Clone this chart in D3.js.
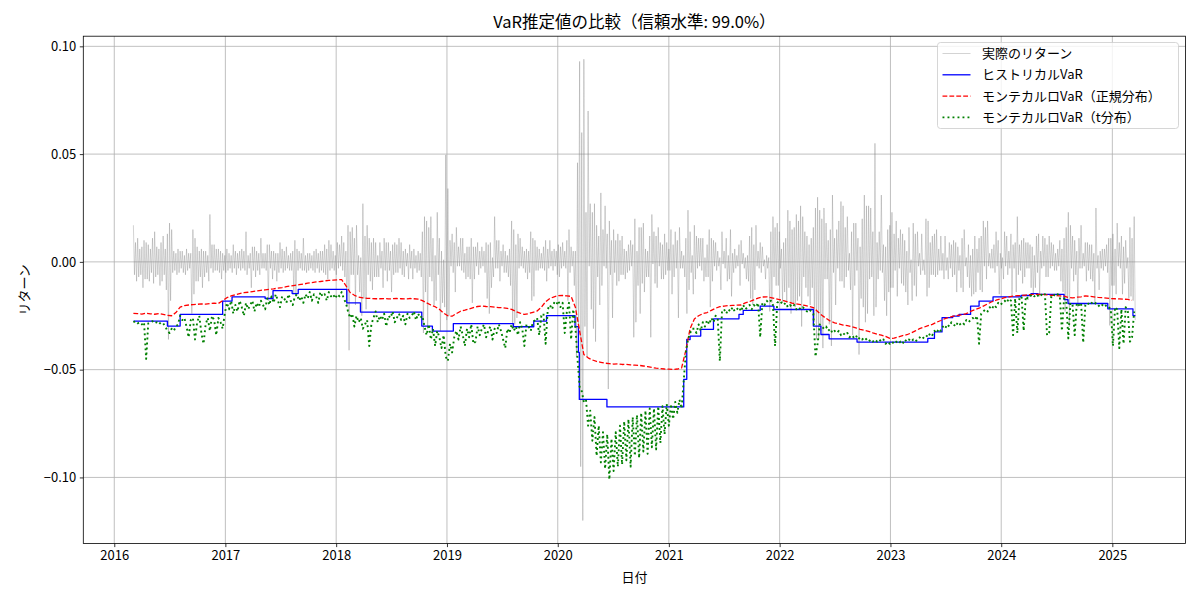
<!DOCTYPE html>
<html>
<head>
<meta charset="utf-8">
<script src="https://cdn.jsdelivr.net/npm/d3@7"></script>
<style>
  body { margin: 0; background: #fff; }
  svg { font-family: "Noto Sans CJK JP", "Noto Sans", sans-serif; }
  .grid line { stroke: #b0b0b0; stroke-width: 0.8; }
  .axis text { font-size: 13px; fill: #000; font-family: "Noto Sans CJK JP", "DejaVu Sans", sans-serif; }
  .axis line { stroke: #000; stroke-width: 0.8; }
  .axis path { display: none; }
</style>
</head>
<body>
<script>
// weekly samples, first week ending 2016-03-04 (values in %)
var weekStart = '2016-03-04';

// weekly high / low of daily returns
var retHi = [
  1.7,0.9,1.1,0.6,0.7,1.0,0.9,0.8,0.6,1.1, 1.4,0.7,0.6,0.9,1.2,0.6,1.3,1.8,1.5,0.5,
  0.4,0.6,0.5,0.5,0.3,0.6,0.4,0.4,1.5,1.1, 0.7,0.5,0.6,0.5,0.5,0.3,2.2,0.8,0.8,0.6,
  0.6,0.5,0.4,0.3,
  // 2017
  0.6,0.4,0.3,0.8,0.5,0.4,0.5,0.6,0.5,1.4, 0.3,0.4,0.7,0.7,0.5,0.4,1.1,0.4,0.4,0.8,
  0.8,0.5,0.5,0.4,0.4,0.9,0.6,0.5,0.7,0.3, 0.4,0.5,1.0,0.6,0.5,0.4,1.1,0.3,0.4,0.4,
  0.3,0.5,0.6,0.4,0.5,0.5,0.8,0.6,1.0,0.8, 0.5,0.3,
  // 2018
  0.9,0.8,1.2,0.9,0.5,1.7,1.4,1.6,1.1,1.7, 0.3,0.2,2.7,1.2,1.7,1.1,0.9,1.1,0.9,0.3,
  0.9,0.5,1.1,0.9,0.9,0.5,0.8,0.9,0.8,1.1, 0.9,0.5,0.6,0.4,0.8,0.5,0.6,0.3,0.5,0.4,
  1.4,2.1,1.9,1.6,2.1,1.1,0.3,2.3,1.1,0.5, 0.1,4.96,
  // 2019
  3.4,1.0,1.3,0.9,1.6,0.7,1.1,1.1,0.4,0.7, 0.7,1.1,0.7,0.7,0.9,0.5,0.7,0.5,0.9,0.8,
  0.9,0.2,2.1,1.0,1.0,0.5,0.8,0.5,0.3,0.6, 1.9,1.5,0.8,1.3,1.1,0.7,0.5,0.6,0.5,1.4,
  1.1,1.0,0.7,0.6,0.4,0.7,1.0,0.6,1.0,0.5, 0.6,0.5,
  // 2020
  0.8,0.7,0.9,0.5,1.0,1.5,0.7,0.5,0.5,4.6, 9.3,6.0,9.4,2.3,7.0,2.7,2.3,2.7,1.7,1.2,
  3.2,1.5,2.6,1.3,1.9,1.0,1.5,1.0,1.3,1.0, 1.2,0.6,0.5,0.8,1.0,0.8,2.0,0.5,1.6,1.6,
  1.8,0.6,0.5,1.2,2.2,1.4,1.2,1.6,0.9,0.8, 1.3,0.9,
  // 2021
  0.6,1.5,0.8,1.4,1.0,1.6,0.5,0.3,1.1,2.4, 1.4,0.3,1.7,1.2,1.1,1.1,1.1,0.2,0.8,1.5,
  1.1,1.0,0.9,0.5,0.2,1.4,0.5,1.1,0.3,1.5, 0.4,0.6,0.3,0.8,1.0,0.4,0.2,0.3,1.2,1.6,
  0.8,1.7,0.5,0.9,0.7,0.1,0.3,0.2,1.4,2.1, 1.6,1.8,1.4,
  // 2022
  0.6,0.9,1.1,2.4,1.9,1.5,1.6,2.2,1.9,2.6, 2.1,1.4,1.2,0.8,1.1,1.6,2.5,3.0,2.4,2.0,
  2.5,1.8,1.0,1.5,3.1,1.1,1.5,1.9,2.8,2.6, 1.6,2.1,0.4,1.4,1.8,1.8,1.1,0.7,2.0,3.1,
  2.6,2.6,2.5,1.4,5.5,0.9,1.4,3.1,0.8,0.7, 1.5,1.7,
  // 2023
  2.3,1.3,1.9,1.1,1.5,1.3,1.0,0.5,1.6,0.1, 1.8,1.3,1.4,0.4,1.3,0.1,2.0,1.9,0.9,1.2,
  1.3,1.5,0.6,1.2,0.4,1.2,0.2,0.9,0.8,1.0, 0.9,0.7,0.3,1.1,1.5,0.2,0.8,0.3,0.6,1.2,
  0.6,1.1,1.2,1.9,1.6,1.9,0.4,0.6,0.8,1.4, 1.0,0.4,
  // 2024
  0.2,1.4,1.2,0.5,1.3,0.8,0.9,2.1,0.8,1.0, 1.1,0.9,0.9,0.8,0.7,0.3,1.2,1.3,0.5,1.2,
  1.1,0.8,1.2,0.9,0.8,0.4,0.6,1.0,0.6,1.1, 1.6,2.3,1.7,1.2,1.0,0.5,1.1,1.7,0.4,0.9,
  0.9,0.8,0.8,0.4,2.5,0.3,0.5,0.6,0.6,0.8, 1.1,1.1,
  // 2025
  1.3,0.6,1.8,0.9,1.2,0.7,1.0,0.2,1.6,1.1, 2.1
];

var retLo = [
  -0.6,-0.9,-0.7,-0.6,-1.2,-0.8,-0.8,-0.9,-0.5,-1.0, -0.7,-0.6,-1.1,-0.9,-0.6,-1.3,-3.6,-1.8,-0.5,-0.4,
  -0.6,-0.5,-0.3,-0.5,-0.6,-0.4,-0.3,-2.4,-1.5,-0.9, -0.9,-0.7,-1.2,-0.7,-0.5,-0.9,-0.3,-0.5,-0.4,-0.4,
  -0.5,-0.8,-0.4,-0.5,
  // 2017
  -0.4,-0.3,-0.5,-0.3,-0.6,-0.3,-0.4,-0.3,-0.4,-0.6, -0.3,-1.2,-0.4,-0.7,-0.4,-0.6,-0.3,-0.3,-0.4,-1.8,
  -0.3,-0.8,-0.4,-0.9,-0.5,-0.3,-0.5,-0.4,-0.3,-0.4, -0.4,-1.5,-1.6,-0.4,-0.3,-0.4,-0.4,-0.5,-0.4,-0.3,
  -0.4,-0.5,-0.3,-0.5,-0.4,-0.5,-0.6,-0.8,-0.4,-0.3, -0.4,-0.6,
  // 2018
  -0.3,-0.2,-0.4,-0.7,-2.1,-4.1,-0.6,-0.6,-2.0,-0.6, -1.4,-2.5,-1.7,-2.2,-0.6,-0.9,-1.3,-0.7,-0.7,-0.7,
  -0.3,-1.2,-0.4,-0.9,-0.4,-1.4,-0.6,-0.5,-0.5,-0.3, -0.6,-0.7,-0.2,-0.8,-0.3,-0.8,-0.3,-0.5,-0.4,-0.7,
  -3.3,-1.4,-3.1,-0.7,-0.9,-2.0,-1.8,-0.6,-3.2,-1.9, -2.1,-2.7,
  // 2019
  -2.5,-0.2,-0.5,-1.4,-0.2,-0.2,-0.4,-0.5,-0.8,-0.7, -0.8,-1.9,-0.8,-0.2,-0.6,-0.3,-0.2,-0.5,-1.7,-2.4,
  -1.2,-0.7,-0.3,-0.3,-0.9,-0.2,-0.5,-0.5,-0.7,-1.1, -3.0,-2.9,-2.6,-0.3,-0.2,-0.3,-0.5,-0.8,-0.5,-1.8,
  -1.6,-0.4,-0.4,-0.3,-0.3,-0.4,-0.9,-0.3,-0.2,-0.4, -0.2,-0.6,
  // 2020
  -0.7,-0.3,-0.2,-0.3,-1.8,-0.5,-0.2,-1.1,-4.4,-3.4, -9.5,-12.0,-3.0,-4.4,-0.2,-2.2,-3.1,-3.7,-0.7,-2.0,
  -1.1,-0.2,-0.3,-5.9,-0.6,-2.6,-0.5,-1.1,-0.9,-0.6, -0.6,-0.8,-0.5,-0.4,-0.2,-3.5,-2.8,-1.1,-2.4,-1.0,
  -1.4,-0.7,-0.7,-3.5,-0.1,-1.0,-1.2,-0.2,-0.8,-0.8, -0.6,-0.4,
  // 2021
  -0.4,-1.5,-0.7,-0.3,-2.6,-0.3,-0.3,-0.7,-2.4,-1.3, -0.5,-1.5,-0.8,-0.3,-0.2,-0.4,-0.9,-0.7,-0.7,-2.1,
  -0.9,-0.2,-0.4,-0.2,-1.3,-0.1,-0.3,-0.9,-0.8,-1.6, -0.5,-0.3,-0.2,-1.1,-0.1,-0.3,-0.8,-0.9,-1.7,-2.0,
  -1.3,-0.2,-0.3,-0.5,-0.2,-0.8,-0.3,-2.3,-1.9,-0.7, -1.1,-1.1,-0.3,
  // 2022
  -1.9,-1.4,-1.9,-1.2,-2.4,-1.9,-2.1,-1.8,-1.6,-3.0, -0.7,-1.2,-1.6,-2.0,-1.2,-2.8,-3.6,-3.6,-3.2,-4.0,
  -0.8,-0.8,-2.9,-3.9,-0.5,-2.0,-0.3,-0.9,-0.9,-1.2, -0.7,-0.4,-1.3,-3.4,-1.1,-0.4,-4.3,-1.7,-2.1,-2.8,
  -2.4,-0.8,-0.7,-2.5,-2.1,-0.8,-0.4,-0.5,-1.8,-2.5, -1.4,-1.2,
  // 2023
  -1.2,-0.4,-1.6,-0.3,-1.0,-1.1,-1.4,-2.0,-0.5,-1.8, -1.1,-1.6,-0.2,-0.6,-0.4,-0.6,-1.6,-1.2,-0.6,-0.6,
  -0.7,-0.6,-0.4,-0.4,-0.8,-0.4,-0.8,-0.3,-0.7,-0.6, -1.4,-0.4,-1.2,-1.4,-0.2,-0.7,-1.2,-1.6,-1.5,-1.4,
  -0.5,-1.3,-1.4,-0.2,-0.8,-0.2,-0.3,-0.3,-0.5,-0.2, -1.5,-0.3,
  // 2024
  -0.8,-0.2,-0.6,-0.3,-1.6,-0.3,-1.4,-0.6,-0.4,-1.0, -0.7,-0.3,-0.3,-1.2,-1.5,-1.2,-0.5,-1.6,-0.3,-0.2,
  -0.7,-0.7,-0.3,-0.2,-0.4,-0.4,-0.2,-0.9,-1.4,-2.3, -1.8,-3.0,-0.3,-0.9,-0.6,-2.1,-0.3,-0.3,-0.2,-0.9,
  -0.4,-0.8,-0.9,-1.9,-0.3,-1.3,-0.3,-0.4,-0.2,-0.5, -2.95,-1.1,
  // 2025
  -1.1,-1.5,-0.2,-0.3,-1.5,-1.0,-0.3,-1.7,-1.6,-1.8, -2.7
];

// Monte Carlo VaR, t distribution (weekly)
var mcTVaR = [
  -2.8,-2.75,-2.85,-2.8,-2.9,-2.8,-4.5,-2.85,-2.8,-2.75, -2.85,-2.8,-2.9,-2.8,-2.85,-3.0,-3.2,-3.3,-3.1,-3.2,
  -3.0,-2.9,-2.5,-2.7,-2.6,-3.0,-3.5,-2.7,-2.6,-3.6, -2.8,-2.5,-3.3,-3.8,-2.9,-2.6,-3.2,-2.5,-2.7,-3.4,
  -2.6,-2.8,-3.1,-2.4,
  // 2017
  -1.9,-2.2,-1.8,-2.4,-2.0,-2.3,-1.8,-2.1,-2.5,-1.9, -2.2,-2.0,-1.8,-2.3,-1.9,-2.1,-1.8,-2.0,-2.2,-1.7,
  -2.0,-1.6,-1.9,-1.5,-1.8,-2.1,-1.6,-1.7,-1.9,-1.5, -1.8,-2.0,-1.6,-1.5,-1.8,-1.6,-1.9,-1.5,-1.7,-1.4,
  -1.8,-1.5,-1.6,-1.9,-1.4,-1.6,-1.5,-1.8,-1.4,-1.6, -1.5,-1.7,
  // 2018
  -1.5,-1.6,-1.4,-1.7,-1.9,-2.3,-2.6,-2.4,-3.0,-2.5, -2.8,-2.6,-3.1,-2.9,-2.7,-3.9,-2.9,-2.6,-2.3,-2.8,
  -2.5,-2.7,-2.4,-3.0,-2.5,-2.6,-2.3,-2.8,-2.6,-2.4, -2.7,-2.5,-2.9,-2.4,-2.6,-2.5,-2.3,-2.7,-2.4,-2.6,
  -2.5,-3.0,-3.4,-2.9,-3.6,-3.1,-3.9,-3.2,-3.5,-4.0, -3.4,-4.4,
  // 2019
  -4.6,-3.8,-4.2,-3.5,-3.2,-3.6,-3.0,-3.4,-3.9,-3.1, -3.5,-2.9,-3.8,-3.7,-3.0,-3.4,-3.1,-2.9,-3.5,-3.2,
  -3.0,-3.6,-3.1,-3.3,-2.9,-3.2,-3.6,-4.0,-3.1,-3.3, -2.9,-3.2,-3.0,-3.4,-2.8,-3.1,-3.9,-2.9,-3.0,-3.2,
  -2.8,-2.7,-2.6,-3.4,-2.5,-2.4,-3.8,-2.2,-2.0,-2.2, -1.9,-2.0,
  // 2020
  -1.8,-2.1,-1.9,-3.3,-2.3,-1.9,-3.6,-2.2,-3.0,-4.5, -5.8,-6.0,-6.5,-6.4,-7.6,-6.9,-8.3,-7.2,-9.0,-7.6,
  -9.3,-7.9,-9.6,-8.0,-10.1,-8.2,-9.7,-7.9,-9.5,-7.6, -9.4,-7.4,-9.2,-7.3,-9.5,-7.2,-9.0,-7.1,-9.1,-7.0,
  -8.8,-6.9,-8.9,-6.8,-8.6,-6.8,-8.7,-6.7,-8.4,-6.7, -8.0,-6.6,
  // 2021
  -7.6,-6.6,-7.3,-6.5,-7.0,-6.4,-6.8,-5.5,-4.2,-3.6, -3.3,-3.1,-3.1,-3.3,-2.9,-3.2,-2.8,-3.0,-2.7,-2.9,
  -2.6,-2.8,-2.5,-2.6,-4.6,-2.3,-2.2,-2.4,-2.2,-2.3, -2.1,-2.3,-2.2,-2.1,-2.3,-2.0,-2.2,-2.1,-2.0,-2.2,
  -2.0,-2.1,-1.9,-3.5,-1.9,-2.0,-1.8,-1.9,-1.8,-2.0, -3.9,-1.9,-1.8,
  // 2022
  -1.9,-2.0,-1.9,-2.1,-2.0,-2.1,-2.0,-2.2,-2.1,-2.2, -2.1,-2.2,-2.3,-2.2,-2.3,-2.4,-4.4,-3.8,-2.9,-3.0,
  -3.1,-3.0,-3.2,-3.1,-3.3,-3.2,-3.3,-3.2,-3.4,-3.3, -3.4,-3.3,-3.5,-3.4,-3.5,-3.4,-3.6,-3.5,-3.6,-3.5,
  -3.6,-3.7,-3.6,-3.7,-3.6,-3.7,-3.6,-3.7,-3.6,-3.8, -3.7,-3.8,
  // 2023
  -3.7,-3.8,-3.7,-3.8,-3.7,-3.8,-3.6,-3.7,-3.6,-3.7, -3.6,-3.7,-3.6,-3.5,-3.6,-3.5,-3.4,-3.5,-3.3,-3.4,
  -3.2,-3.3,-3.1,-3.2,-3.0,-3.1,-2.9,-3.0,-2.8,-2.9, -3.0,-2.8,-2.9,-2.8,-2.9,-2.7,-2.8,-2.7,-2.6,-2.7,
  -2.5,-3.8,-2.4,-2.3,-2.2,-2.3,-2.1,-2.2,-2.0,-2.1, -1.9,-2.0,
  // 2024
  -1.9,-1.8,-1.9,-1.7,-1.8,-3.4,-1.7,-3.3,-1.7,-1.6, -3.2,-1.6,-1.7,-1.6,-1.5,-1.6,-1.5,-1.6,-1.5,-1.6,
  -1.5,-3.4,-3.3,-1.6,-1.5,-1.6,-1.5,-1.6,-3.2,-1.7, -1.8,-3.55,-1.9,-2.0,-3.4,-1.9,-2.0,-1.9,-3.75,-2.0,
  -1.9,-2.0,-1.9,-2.0,-1.9,-2.0,-2.1,-2.0,-2.1,-2.0, -2.1,-2.2,
  // 2025
  -3.9,-2.1,-2.2,-4.0,-2.2,-3.8,-2.1,-2.3,-3.7,-3.5, -2.3
];

// Monte Carlo VaR, normal distribution (every two weeks)
var mcNormVaR = [
  -2.39,-2.40,-2.42,-2.38,-2.41,-2.43,-2.40,-2.44,-2.48,-2.50, -2.35,-2.10,-2.03,-2.00,-1.98,-1.97,-1.95,-1.96,-1.93,-1.92,
  -1.93,-1.80,-1.66,-1.58,-1.52,-1.47,-1.43,-1.41,-1.38,-1.35, -1.32,-1.30,-1.27,-1.25,-1.22,-1.19,-1.15,-1.12,-1.09,-1.06,
  -1.03,-0.99,-0.96,-0.93,-0.91,-0.88,-0.86,-0.85,-0.83,-0.82, -1.10,-1.42,-1.55,-1.63,-1.67,-1.69,-1.70,-1.71,-1.71,-1.70,
  -1.72,-1.71,-1.70,-1.71,-1.72,-1.70,-1.71,-1.73,-1.80,-1.90, -2.00,-2.08,-2.20,-2.38,-2.50,-2.52,-2.40,-2.29,-2.24,-2.18,
  -2.12,-2.07,-2.05,-2.07,-2.08,-2.10,-2.12,-2.13,-2.16,-2.20, -2.30,-2.38,-2.44,-2.40,-2.34,-2.28,-2.10,-1.85,-1.70,-1.62,
  -1.57,-1.56,-1.58,-1.60,-2.10,-3.20,-4.30,-4.45,-4.55,-4.62, -4.66,-4.70,-4.72,-4.74,-4.73,-4.76,-4.75,-4.78,-4.79,-4.80,
  -4.83,-4.86,-4.90,-4.93,-4.95,-4.97,-4.98,-4.99,-4.97,-4.92, -4.10,-3.10,-2.65,-2.50,-2.40,-2.35,-2.25,-2.15,-2.08,-2.05,
  -2.03,-2.02,-2.01,-2.00,-1.90,-1.84,-1.76,-1.68,-1.63,-1.62, -1.66,-1.70,-1.75,-1.80,-1.86,-1.91,-1.95,-1.98,-2.02,-2.07,
  -2.12,-2.30,-2.48,-2.62,-2.75,-2.83,-2.88,-2.93,-2.96,-3.00, -3.06,-3.13,-3.18,-3.22,-3.29,-3.35,-3.40,-3.46,-3.55,-3.54,
  -3.48,-3.42,-3.38,-3.30,-3.20,-3.10,-3.03,-2.96,-2.90,-2.80, -2.72,-2.63,-2.57,-2.52,-2.48,-2.45,-2.40,-2.30,-2.22,-2.15,
  -2.05,-1.95,-1.85,-1.78,-1.72,-1.66,-1.62,-1.59,-1.57,-1.56, -1.54,-1.52,-1.51,-1.51,-1.51,-1.53,-1.55,-1.56,-1.58,-1.59,
  -1.65,-1.67,-1.64,-1.62,-1.58,-1.60,-1.62,-1.65,-1.66,-1.68, -1.70,-1.71,-1.72,-1.73,-1.74,-1.78
];

// historical VaR: value in force from each date on
var histDates = [
  '2016-03-04','2016-06-24','2016-08-05','2016-12-23','2017-01-23','2017-05-12','2017-06-07','2017-08-09',
  '2017-08-29','2018-02-05','2018-03-22','2018-10-10','2018-11-14','2019-01-22','2019-08-08','2019-10-14',
  '2019-11-25','2020-02-27','2020-03-09','2020-03-12','2020-06-11','2021-02-19','2021-03-01','2021-03-12',
  '2021-04-16','2021-05-28','2021-08-20','2021-09-03','2021-10-29','2021-12-13','2022-04-22','2022-05-17',
  '2022-06-13','2022-09-13','2023-05-04','2023-05-26','2023-06-20','2023-07-25','2023-08-15','2023-09-22',
  '2023-10-20','2023-12-05','2024-03-06','2024-04-08','2024-05-01','2024-07-26','2024-08-08','2024-12-17',
  '2025-03-10','2025-03-18'
];
var histVaR = [
  -2.75,-2.98,-2.44,-1.82,-1.62,-1.70,-1.33,-1.47,
  -1.28,-1.90,-2.33,-2.98,-3.21,-2.86,-3.01,-2.75,
  -2.49,-3.00,-4.20,-6.38,-6.73,-5.45,-3.60,-3.44,
  -3.13,-2.64,-2.44,-2.25,-2.05,-2.21,-2.98,-3.37,
  -3.57,-3.72,-3.55,-3.25,-2.59,-2.52,-2.44,-2.05,
  -1.82,-1.62,-1.56,-1.47,-1.51,-1.75,-1.93,-2.18,
  -2.49,-2.49
];

var yearTicks = [2016, 2017, 2018, 2019, 2020, 2021, 2022, 2023, 2024, 2025];
var yTicks = [-0.10, -0.05, 0.00, 0.05, 0.10];
var seriesNames = ['実際のリターン', 'ヒストリカルVaR', 'モンテカルロVaR（正規分布）', 'モンテカルロVaR（t分布）'];

(function() {
  var width = 1200;
  var height = 600;
  var left = 83.3, right = 1185.5, top = 36.2, bottom = 543.6;
  var xScale, yScale;
  var parse = d3.timeParse('%Y-%m-%d');
  var start = parse(weekStart);

  var styles = [
    { color: 'gray', width: 0.7, dash: null, opacity: 0.5 },
    { color: '#0000ff', width: 1.3, dash: null, opacity: 1 },
    { color: '#ff0000', width: 1.3, dash: '4.8 2.1', opacity: 1 },
    { color: '#008000', width: 1.9, dash: '1.9 3.1', opacity: 1 }
  ];

  function weekDate(i, extraHours) {
    return d3.timeHour.offset(d3.timeDay.offset(start, 7 * i), extraHours || 0);
  }

  function buildData() {
    var returns = [];
    retHi.forEach(function(v, i) {
      returns.push({ date: weekDate(i), value: v / 100 });
      returns.push({ date: weekDate(i, 84), value: retLo[i] / 100 });
    });
    var hist = histDates.map(function(d, i) {
      return { date: parse(d), value: histVaR[i] / 100 };
    });
    var norm = mcNormVaR.map(function(v, i) {
      return { date: weekDate(2 * i), value: v / 100 };
    });
    var tdist = mcTVaR.map(function(v, i) {
      return { date: weekDate(i), value: v / 100 };
    });
    return [returns, hist, norm, tdist];
  }

  function computeScale(series) {
    var all = d3.merge(series);
    var xExt = d3.extent(all, d => d.date);
    var padX = (xExt[1] - xExt[0]) * 0.05;
    xScale = d3
      .scaleTime()
      .domain([new Date(+xExt[0] - padX), new Date(+xExt[1] + padX)])
      .range([left, right]);

    var yExt = d3.extent(all, d => d.value);
    var padY = (yExt[1] - yExt[0]) * 0.05;
    yScale = d3
      .scaleLinear()
      .domain([yExt[0] - padY, yExt[1] + padY])
      .range([bottom, top]);
  }

  function drawGrid(svg) {
    var grid = svg.append('g').attr('class', 'grid');
    grid
      .selectAll('.gx')
      .data(yearTicks)
      .enter()
      .append('line')
      .attr('x1', d => xScale(new Date(d, 0, 1)))
      .attr('x2', d => xScale(new Date(d, 0, 1)))
      .attr('y1', top)
      .attr('y2', bottom);
    grid
      .selectAll('.gy')
      .data(yTicks)
      .enter()
      .append('line')
      .attr('x1', left)
      .attr('x2', right)
      .attr('y1', d => yScale(d))
      .attr('y2', d => yScale(d));
  }

  function drawLines(svg, series) {
    svg
      .append('clipPath')
      .attr('id', 'plot-area')
      .append('rect')
      .attr('x', left)
      .attr('y', top)
      .attr('width', right - left)
      .attr('height', bottom - top);

    var line = d3
      .line()
      .x(d => xScale(d.date))
      .y(d => yScale(d.value));
    var stepLine = d3
      .line()
      .curve(d3.curveStepAfter)
      .x(d => xScale(d.date))
      .y(d => yScale(d.value));

    series.forEach(function(data, i) {
      var s = styles[i];
      svg
        .append('path')
        .datum(data)
        .attr('d', i === 1 ? stepLine : line)
        .attr('fill', 'none')
        .attr('stroke', s.color)
        .attr('stroke-width', s.width)
        .attr('stroke-opacity', s.opacity)
        .attr('stroke-dasharray', s.dash)
        .attr('stroke-linejoin', 'round')
        .attr('clip-path', 'url(#plot-area)');
    });
  }

  function drawAxis(svg) {
    var xAxis = d3
      .axisBottom(xScale)
      .tickValues(yearTicks.map(y => new Date(y, 0, 1)))
      .tickFormat(d3.timeFormat('%Y'))
      .tickSize(3.5)
      .tickPadding(3.5);
    svg
      .append('g')
      .attr('class', 'x axis')
      .attr('transform', `translate(0, ${bottom})`)
      .call(xAxis);

    var yAxis = d3
      .axisLeft(yScale)
      .tickValues(yTicks)
      .tickFormat(d3.format('.2f'))
      .tickSize(3.5)
      .tickPadding(3.5);
    svg
      .append('g')
      .attr('class', 'y axis')
      .attr('transform', `translate(${left}, 0)`)
      .call(yAxis);

    svg
      .append('rect')
      .attr('x', left)
      .attr('y', top)
      .attr('width', right - left)
      .attr('height', bottom - top)
      .attr('fill', 'none')
      .attr('stroke', '#000')
      .attr('stroke-width', 0.8);

    svg
      .append('text')
      .attr('x', (left + right) / 2)
      .attr('y', 28)
      .attr('text-anchor', 'middle')
      .style('font-size', '16.5px')
      .text('VaR推定値の比較（信頼水準: 99.0%）');

    svg
      .append('text')
      .attr('x', (left + right) / 2)
      .attr('y', 582)
      .attr('text-anchor', 'middle')
      .style('font-size', '13px')
      .text('日付');

    svg
      .append('text')
      .attr('transform', `translate(29, ${(top + bottom) / 2}) rotate(-90)`)
      .attr('text-anchor', 'middle')
      .style('font-size', '13px')
      .text('リターン');
  }

  function drawLegend(svg) {
    var g = svg.append('g').attr('transform', 'translate(937.5, 42.5)');
    g.append('rect')
      .attr('width', 241)
      .attr('height', 86)
      .attr('rx', 3)
      .attr('fill', '#fff')
      .attr('fill-opacity', 0.8)
      .attr('stroke', '#cccccc')
      .attr('stroke-width', 0.8);

    var rows = g
      .selectAll('.entry')
      .data(seriesNames)
      .enter()
      .append('g')
      .attr('transform', (d, i) => `translate(0, ${11 + i * 21.3})`);

    rows
      .append('line')
      .attr('x1', 5)
      .attr('x2', 33)
      .attr('stroke', (d, i) => styles[i].color)
      .attr('stroke-width', (d, i) => styles[i].width)
      .attr('stroke-opacity', (d, i) => styles[i].opacity)
      .attr('stroke-dasharray', (d, i) => styles[i].dash);

    rows
      .append('text')
      .attr('x', 44.5)
      .attr('dy', '0.35em')
      .style('font-size', '13px')
      .text(d => d);
  }

  var svg = d3
    .select('body')
    .append('svg')
    .attr('width', width)
    .attr('height', height);

  var series = buildData();
  computeScale(series);
  drawGrid(svg);
  drawLines(svg, series);
  drawAxis(svg);
  drawLegend(svg);
})();
</script>
</body>
</html>
